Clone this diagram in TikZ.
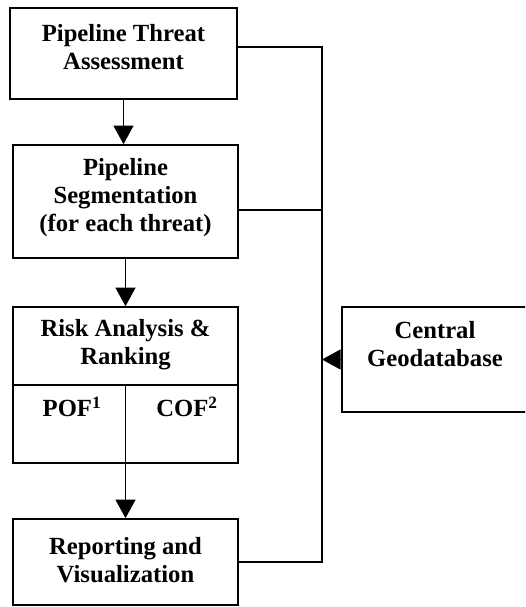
\documentclass[tikz,border=0pt]{standalone}
\usepackage{fontspec}
\setmainfont{Liberation Serif}
\usetikzlibrary{arrows.meta}

\begin{document}
\begin{tikzpicture}[x=0.75pt, y=-0.75pt, % <- 1 unit = 1 pixel of the reference
   frame/.style={draw, line width=1.2pt, inner sep=0pt},
   txt/.style={align=center, inner sep=0pt, font=\bfseries\fontsize{18.5}{21}\selectfont},
   arr/.style={line width=1.2pt, -{Triangle[width=15pt,length=14pt]}},
   wire/.style={line width=1.2pt}]
   % Picture size
   \useasboundingbox (0,0) rectangle (525,607);
   \clip (0,0) rectangle (525,607);
   % Frames of the stages
   \node[frame, minimum width=170.25pt, minimum height=68.25pt] (threat) at (123.5,53.5) {};
   \node[frame, minimum width=168.75pt, minimum height=84.75pt] (segment) at (125.5,201.5) {};
   \node[frame, minimum width=168.75pt, minimum height=117pt] (risk) at (125.5,385) {};
   \node[frame, minimum width=168.75pt, minimum height=64.5pt] (report) at (125.5,562) {};
   \node[frame, minimum width=139.5pt, minimum height=78.75pt] (geo) at (435,359.5) {};
   % Texts
   \node[txt] (threatlbl) at (123.5,47) {Pipeline Threat\\Assessment};
   \node[txt] (segmentlbl) at (125.5,198) {Pipeline\\Segmentation\\(for each threat)};
   \node[txt] (risklbl) at (125.5,345) {Risk Analysis \&\\Ranking};
   \node[txt] (pof) at (72,407) {POF\textsuperscript{1}};
   \node[txt] (cof) at (187,407) {COF\textsuperscript{2}};
   \node[txt] (reportlbl) at (125.5,560) {Reporting and\\Visualization};
   \node[txt] (geolbl) at (435,344) {Central\\Geodatabase};
   % Cells of the risk box
   \coordinate (split) at (125.5,385);
   \draw[wire] (risk.west |- split) -- (risk.east |- split);
   \draw[wire] (split) -- (split |- risk.south);
   % Flow down
   \draw[arr] (threat.south) -- (threat.south |- segment.north);
   \draw[arr] (segment.south) -- (risk.north);
   \draw[arr] (risk.south) -- (report.north);
   % Database bus
   \coordinate (bustop) at (322,47);
   \coordinate (busbot) at (322,562);
   \draw[wire] ([yshift=4.9pt]threat.east) -- (bustop) -- (busbot) -- (report.east);
   \draw[wire] ([yshift=-6.4pt]segment.east) -- ([yshift=-6.4pt]segment.east -| bustop);
   \draw[arr] (geo.west) -- (geo.west -| bustop);
\end{tikzpicture}
\end{document}
